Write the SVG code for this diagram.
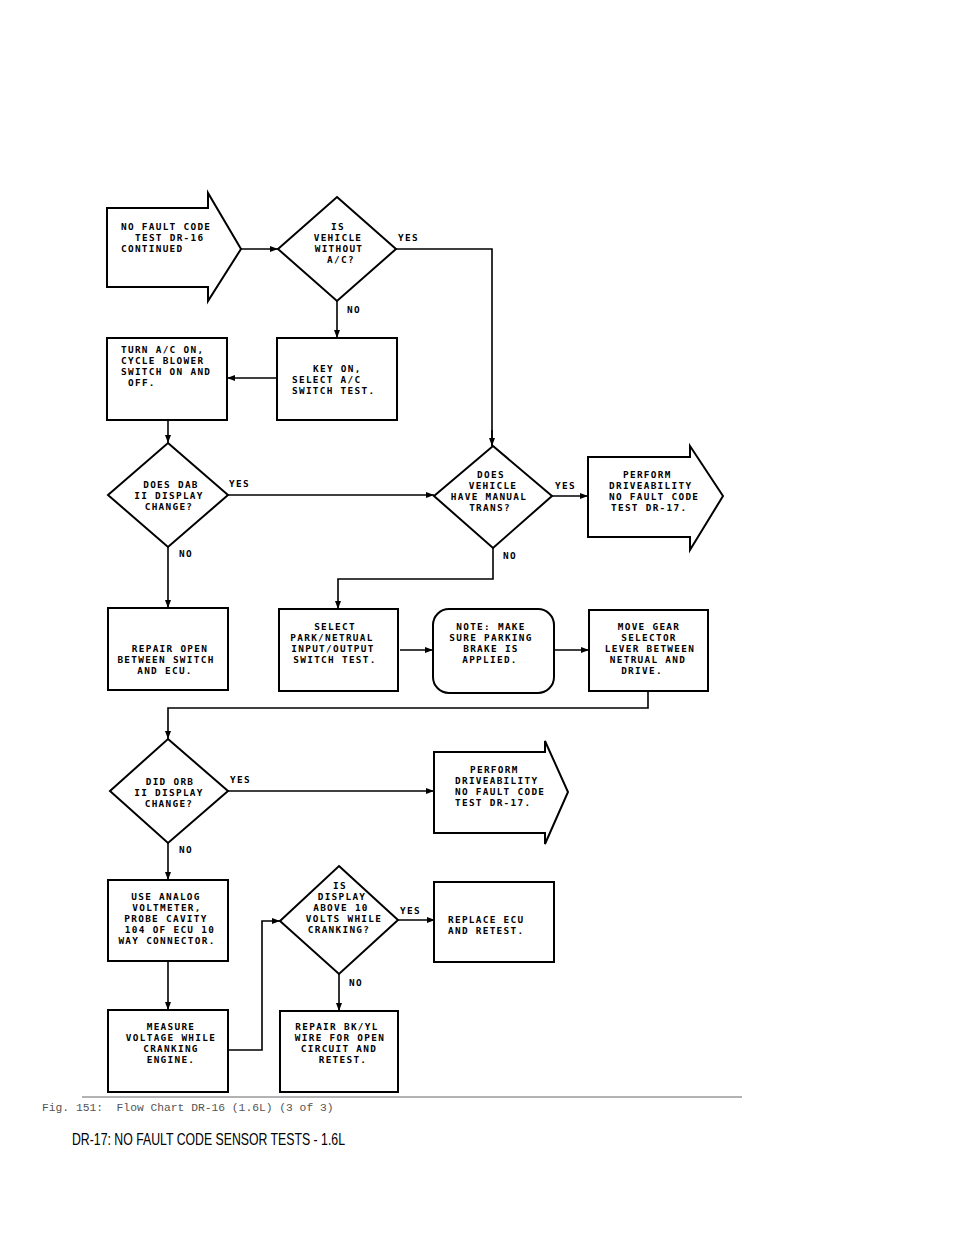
<svg xmlns="http://www.w3.org/2000/svg" width="960" height="1242" viewBox="0 0 960 1242">
<defs>
<marker id="ah" markerUnits="userSpaceOnUse" markerWidth="8" markerHeight="6" refX="8" refY="3" orient="auto">
<path d="M0,0 L8,3 L0,6 Z" fill="#000"/>
</marker>
<style>
.s{fill:#fff;stroke:#000;stroke-width:2;stroke-linejoin:miter}
.c{fill:none;stroke:#000;stroke-width:1.6}
.a{marker-end:url(#ah)}
text{font-family:"DejaVu Sans Mono","Liberation Mono",monospace;font-size:9.4px;letter-spacing:1.3px;font-weight:bold;fill:#000}
</style>
</defs>
<rect width="960" height="1242" fill="#fff"/>

<g id="connectors">
<path class="c a" d="M241,249 H278"/>
<path class="c" d="M396,249 H492 V446"/>
<path class="c a" d="M492,430 V446"/>
<path class="c a" d="M337,301 V338"/>
<path class="c a" d="M277,378 H227"/>
<path class="c a" d="M168,420 V443"/>
<path class="c a" d="M228,495 H434"/>
<path class="c a" d="M168,547 V608"/>
<path class="c a" d="M552,496 H588"/>
<path class="c a" d="M493,548 V579 H338 V609"/>
<path class="c a" d="M400,650 H433"/>
<path class="c a" d="M554,650 H589"/>
<path class="c a" d="M648,691 V708 H168 V739"/>
<path class="c a" d="M228,791 H434"/>
<path class="c a" d="M168,843 V880"/>
<path class="c a" d="M168,961 V1010"/>
<path class="c a" d="M228,1050 H262 V921 H280"/>
<path class="c a" d="M398,920 H435"/>
<path class="c a" d="M339,974 V1011"/>
</g>

<g id="lbl">
<text x="398" y="241">YES</text>
<text x="347" y="313">NO</text>
<text x="229" y="487">YES</text>
<text x="179" y="557">NO</text>
<text x="555" y="489">YES</text>
<text x="503" y="559">NO</text>
<text x="230" y="783">YES</text>
<text x="179" y="853">NO</text>
<text x="400" y="914">YES</text>
<text x="349" y="986">NO</text>
</g>

<g id="start">
<path class="s" d="M107,208 H208 V193 L241,249 L208,301 V287 H107 Z"/>
<text x="121" y="230">NO FAULT CODE</text>
<text x="135" y="241">TEST DR-16</text>
<text x="121" y="252">CONTINUED</text>
</g>

<g id="d1">
<path class="s" d="M337,197 L396,249 L337,301 L278,249 Z"/>
<text x="338" y="230" text-anchor="middle">IS</text>
<text x="338" y="241" text-anchor="middle">VEHICLE</text>
<text x="339" y="252" text-anchor="middle">WITHOUT</text>
<text x="341" y="263" text-anchor="middle">A/C?</text>
</g>

<g id="keyon">
<rect class="s" x="277" y="338" width="120" height="82"/>
<text x="313" y="372">KEY ON,</text>
<text x="292" y="383">SELECT A/C</text>
<text x="292" y="394">SWITCH TEST.</text>
</g>

<g id="turnac">
<rect class="s" x="107" y="338" width="120" height="82"/>
<text x="121" y="353">TURN A/C ON,</text>
<text x="121" y="364">CYCLE BLOWER</text>
<text x="121" y="375">SWITCH ON AND</text>
<text x="128" y="386">OFF.</text>
</g>

<g id="d2">
<path class="s" d="M168,443 L228,495 L168,547 L108,495 Z"/>
<text x="171" y="488" text-anchor="middle">DOES DAB</text>
<text x="169" y="499" text-anchor="middle">II DISPLAY</text>
<text x="169" y="510" text-anchor="middle">CHANGE?</text>
</g>

<g id="d3">
<path class="s" d="M493,446 L552,496 L493,548 L434,496 Z"/>
<text x="491" y="478" text-anchor="middle">DOES</text>
<text x="493" y="489" text-anchor="middle">VEHICLE</text>
<text x="489" y="500" text-anchor="middle">HAVE MANUAL</text>
<text x="490" y="511" text-anchor="middle">TRANS?</text>
</g>

<g id="perform1">
<path class="s" d="M588,457 H690 V446 L723,496 L690,550 V537 H588 Z"/>
<text x="623" y="478">PERFORM</text>
<text x="609" y="489">DRIVEABILITY</text>
<text x="609" y="500">NO FAULT CODE</text>
<text x="611" y="511">TEST DR-17.</text>
</g>

<g id="repairopen">
<rect class="s" x="108" y="608" width="120" height="82"/>
<text x="170" y="652" text-anchor="middle">REPAIR OPEN</text>
<text x="166" y="663" text-anchor="middle">BETWEEN SWITCH</text>
<text x="165" y="674" text-anchor="middle">AND ECU.</text>
</g>

<g id="select">
<rect class="s" x="279" y="609" width="119" height="82"/>
<text x="335" y="630" text-anchor="middle">SELECT</text>
<text x="332" y="641" text-anchor="middle">PARK/NETRUAL</text>
<text x="333" y="652" text-anchor="middle">INPUT/OUTPUT</text>
<text x="335" y="663" text-anchor="middle">SWITCH TEST.</text>
</g>

<g id="note">
<rect class="s" x="433" y="609" width="121" height="84" rx="16" ry="16"/>
<text x="491" y="630" text-anchor="middle">NOTE: MAKE</text>
<text x="491" y="641" text-anchor="middle">SURE PARKING</text>
<text x="491" y="652" text-anchor="middle">BRAKE IS</text>
<text x="490" y="663" text-anchor="middle">APPLIED.</text>
</g>

<g id="movegear">
<rect class="s" x="589" y="610" width="119" height="81"/>
<text x="649" y="630" text-anchor="middle">MOVE GEAR</text>
<text x="649" y="641" text-anchor="middle">SELECTOR</text>
<text x="650" y="652" text-anchor="middle">LEVER BETWEEN</text>
<text x="648" y="663" text-anchor="middle">NETRUAL AND</text>
<text x="642" y="674" text-anchor="middle">DRIVE.</text>
</g>

<g id="d4">
<path class="s" d="M168,739 L228,791 L168,843 L110,791 Z"/>
<text x="170" y="785" text-anchor="middle">DID ORB</text>
<text x="169" y="796" text-anchor="middle">II DISPLAY</text>
<text x="169" y="807" text-anchor="middle">CHANGE?</text>
</g>

<g id="perform2">
<path class="s" d="M434,752 H545 V741 L568,792 L545,844 V833 H434 Z"/>
<text x="470" y="773">PERFORM</text>
<text x="455" y="784">DRIVEABILITY</text>
<text x="455" y="795">NO FAULT CODE</text>
<text x="455" y="806">TEST DR-17.</text>
</g>

<g id="useanalog">
<rect class="s" x="108" y="880" width="120" height="81"/>
<text x="166" y="900" text-anchor="middle">USE ANALOG</text>
<text x="167" y="911" text-anchor="middle">VOLTMETER,</text>
<text x="166" y="922" text-anchor="middle">PROBE CAVITY</text>
<text x="170" y="933" text-anchor="middle">104 OF ECU 10</text>
<text x="167" y="944" text-anchor="middle">WAY CONNECTOR.</text>
</g>

<g id="measure">
<rect class="s" x="108" y="1010" width="120" height="82"/>
<text x="171" y="1030" text-anchor="middle">MEASURE</text>
<text x="171" y="1041" text-anchor="middle">VOLTAGE WHILE</text>
<text x="171" y="1052" text-anchor="middle">CRANKING</text>
<text x="171" y="1063" text-anchor="middle">ENGINE.</text>
</g>

<g id="d5">
<path class="s" d="M339,866 L398,920 L339,974 L280,921 Z"/>
<text x="340" y="889" text-anchor="middle">IS</text>
<text x="342" y="900" text-anchor="middle">DISPLAY</text>
<text x="341" y="911" text-anchor="middle">ABOVE 10</text>
<text x="344" y="922" text-anchor="middle">VOLTS WHILE</text>
<text x="339" y="933" text-anchor="middle">CRANKING?</text>
</g>

<g id="replace">
<rect class="s" x="434" y="882" width="120" height="80"/>
<text x="448" y="923">REPLACE ECU</text>
<text x="448" y="934">AND RETEST.</text>
</g>

<g id="repairbk">
<rect class="s" x="280" y="1011" width="118" height="81"/>
<text x="337" y="1030" text-anchor="middle">REPAIR BK/YL</text>
<text x="340" y="1041" text-anchor="middle">WIRE FOR OPEN</text>
<text x="339" y="1052" text-anchor="middle">CIRCUIT AND</text>
<text x="343" y="1063" text-anchor="middle">RETEST.</text>
</g>

<g id="caption">
<line x1="82" y1="1097" x2="742" y2="1097" stroke="#666" stroke-width="1"/>
<text x="42" y="1111" style="font-family:'Liberation Mono','Courier New',monospace;font-size:11.3px;letter-spacing:0;font-weight:normal;fill:#555" xml:space="preserve">Fig. 151:  Flow Chart DR-16 (1.6L) (3 of 3)</text>
<text x="72" y="1145" textLength="273" lengthAdjust="spacingAndGlyphs" style="font-family:'Liberation Sans',Arial,sans-serif;font-size:16.5px;letter-spacing:0;font-weight:normal;fill:#000">DR-17: NO FAULT CODE SENSOR TESTS - 1.6L</text>
</g>
</svg>
